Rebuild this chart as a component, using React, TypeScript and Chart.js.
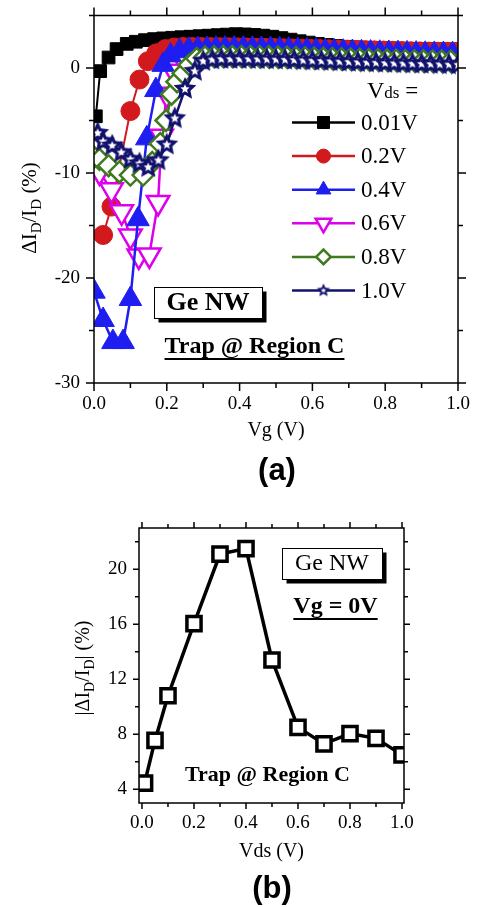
import React, { useEffect, useRef } from 'react';
import { Chart, registerables } from 'chart.js';
import { drawPoint } from 'chart.js/helpers';

Chart.register(...registerables);

const SERIF = '"Liberation Serif", "Times New Roman", Times, serif';
const SANS = '"Liberation Sans", Arial, Helvetica, sans-serif';

// ---------------- Panel (a): ΔI_D/I_D (%) vs Vg (V) ----------------
const VDS_LABELS = ['0.01V', '0.2V', '0.4V', '0.6V', '0.8V', '1.0V'];

const VG_001 = [0.005, 0.017, 0.04, 0.062, 0.09, 0.115, 0.14, 0.165, 0.19, 0.215, 0.24, 0.265, 0.29, 0.315, 0.34, 0.365, 0.39, 0.415, 0.44, 0.465, 0.49, 0.515, 0.54, 0.565, 0.59, 0.615, 0.64, 0.665, 0.69, 0.715, 0.74, 0.765, 0.79, 0.815, 0.84, 0.865, 0.89, 0.915, 0.94, 0.965, 0.99];
const DI_001 = [-4.6, -0.3, 1.0, 1.8, 2.3, 2.5, 2.65, 2.75, 2.82, 2.88, 2.93, 2.98, 3.03, 3.08, 3.13, 3.18, 3.22, 3.2, 3.15, 3.08, 2.98, 2.85, 2.7, 2.55, 2.42, 2.3, 2.2, 2.1, 2.02, 1.97, 1.93, 1.9, 1.88, 1.86, 1.84, 1.82, 1.8, 1.79, 1.78, 1.77, 1.76];

const VG_02 = [0.025, 0.048, 0.1, 0.125, 0.148, 0.171, 0.196, 0.22, 0.245, 0.27, 0.295, 0.32, 0.345, 0.37, 0.395, 0.42, 0.445, 0.47, 0.495, 0.52, 0.545, 0.57, 0.595, 0.62, 0.645, 0.67, 0.695, 0.72, 0.745, 0.77, 0.795, 0.82, 0.845, 0.87, 0.895, 0.92, 0.945, 0.97, 0.995];
const DI_02 = [-15.9, -13.2, -4.1, -1.1, 0.65, 1.4, 1.8, 1.95, 2.0, 2.0, 2.0, 1.99, 1.98, 1.97, 1.96, 1.95, 1.93, 1.92, 1.9, 1.88, 1.86, 1.84, 1.82, 1.8, 1.78, 1.76, 1.74, 1.72, 1.7, 1.68, 1.66, 1.64, 1.62, 1.6, 1.58, 1.56, 1.55, 1.54, 1.53];

const VG_04 = [0.0, 0.025, 0.052, 0.08, 0.1, 0.121, 0.145, 0.17, 0.19, 0.21, 0.235, 0.26, 0.285, 0.31, 0.335, 0.36, 0.385, 0.41, 0.435, 0.46, 0.485, 0.51, 0.535, 0.56, 0.585, 0.61, 0.635, 0.66, 0.685, 0.71, 0.735, 0.76, 0.785, 0.81, 0.835, 0.86, 0.885, 0.91, 0.935, 0.96, 0.985];
const DI_04 = [-21.3, -24.0, -26.1, -26.1, -22.0, -14.4, -6.7, -2.1, 0.3, 1.2, 1.6, 1.75, 1.8, 1.82, 1.84, 1.85, 1.85, 1.85, 1.84, 1.82, 1.8, 1.78, 1.75, 1.72, 1.68, 1.65, 1.62, 1.58, 1.55, 1.52, 1.5, 1.47, 1.45, 1.43, 1.41, 1.39, 1.37, 1.35, 1.34, 1.33, 1.32];

const VG_06 = [0.015, 0.048, 0.076, 0.1, 0.123, 0.152, 0.176, 0.186, 0.2, 0.218, 0.24, 0.265, 0.29, 0.315, 0.34, 0.365, 0.39, 0.415, 0.44, 0.465, 0.49, 0.515, 0.54, 0.565, 0.59, 0.615, 0.64, 0.665, 0.69, 0.715, 0.74, 0.765, 0.79, 0.815, 0.84, 0.865, 0.89, 0.915, 0.94, 0.965, 0.99];
const DI_06 = [-9.9, -11.6, -13.7, -16.0, -17.9, -17.8, -12.8, -6.5, -2.5, -0.3, 1.0, 1.4, 1.5, 1.5, 1.5, 1.5, 1.5, 1.49, 1.48, 1.47, 1.46, 1.45, 1.43, 1.41, 1.39, 1.37, 1.35, 1.33, 1.31, 1.29, 1.27, 1.25, 1.23, 1.21, 1.19, 1.17, 1.15, 1.14, 1.13, 1.12, 1.11];

const VG_08 = [0.0, 0.015, 0.04, 0.07, 0.1, 0.135, 0.16, 0.182, 0.198, 0.213, 0.228, 0.245, 0.262, 0.282, 0.305, 0.33, 0.355, 0.38, 0.405, 0.43, 0.455, 0.48, 0.505, 0.53, 0.555, 0.58, 0.605, 0.63, 0.655, 0.68, 0.705, 0.73, 0.755, 0.78, 0.805, 0.83, 0.855, 0.88, 0.905, 0.93, 0.955, 0.98];
const DI_08 = [-8.5, -8.7, -9.3, -9.9, -10.2, -10.2, -9.0, -7.2, -5.0, -2.5, -1.3, -0.5, 0.3, 0.9, 1.05, 1.08, 1.1, 1.1, 1.1, 1.09, 1.08, 1.06, 1.04, 1.02, 1.0, 0.98, 0.95, 0.92, 0.9, 0.87, 0.85, 0.82, 0.8, 0.78, 0.76, 0.74, 0.72, 0.7, 0.68, 0.67, 0.66, 0.65];

const VG_10 = [0.01, 0.025, 0.05, 0.075, 0.1, 0.125, 0.149, 0.177, 0.2, 0.222, 0.25, 0.277, 0.3, 0.325, 0.35, 0.375, 0.4, 0.425, 0.45, 0.475, 0.5, 0.525, 0.55, 0.575, 0.6, 0.625, 0.65, 0.675, 0.7, 0.725, 0.75, 0.775, 0.8, 0.825, 0.85, 0.875, 0.9, 0.925, 0.95, 0.975, 1.0];
const DI_10 = [-6.2, -7.0, -7.4, -8.05, -8.7, -9.1, -9.45, -8.8, -7.3, -4.8, -2.0, -0.3, 0.65, 0.8, 0.85, 0.85, 0.85, 0.84, 0.83, 0.82, 0.8, 0.78, 0.76, 0.73, 0.7, 0.67, 0.64, 0.61, 0.58, 0.55, 0.52, 0.5, 0.47, 0.45, 0.43, 0.41, 0.39, 0.37, 0.35, 0.33, 0.31];

const A_X_TICKS = [0, 0.2, 0.4, 0.6, 0.8, 1.0];
const A_X_MINOR = [0.1, 0.3, 0.5, 0.7, 0.9];
const A_Y_TICKS = [-30, -20, -10, 0];
const A_Y_MINOR = [-25, -15, -5, 5];

// ---------------- Panel (b): |ΔI_D/I_D| (%) vs Vds (V) ----------------
const VDS_B = [0.01, 0.05, 0.1, 0.2, 0.3, 0.4, 0.5, 0.6, 0.7, 0.8, 0.9, 1.0];
const DELTA_B = [4.45, 7.55, 10.8, 16.05, 21.1, 21.5, 13.4, 8.5, 7.3, 8.05, 7.7, 6.5];

const B_X_TICKS = [0, 0.2, 0.4, 0.6, 0.8, 1.0];
const B_X_MINOR = [0.1, 0.3, 0.5, 0.7, 0.9];
const B_Y_TICKS = [4, 8, 12, 16, 20];
const B_Y_MINOR = [6, 10, 14, 18, 22];

// ---------------- styles ----------------
const NAVY = '#12126e';
const STYLES = [
  { color: '#000000', ps: 'rect', r: 9, rot: 0, fill: '#000000', pbw: 1, lw: 2, order: 5, legR: 8.5 },
  { color: '#d21a1e', ps: 'circle', r: 9.5, rot: 0, fill: '#d21a1e', pbw: 1, lw: 2, order: 4, legR: 7 },
  { color: '#1e1ef0', ps: 'triangle', r: 13, rot: 0, fill: '#1e1ef0', pbw: 1, lw: 2.5, order: 2, legR: 8.5 },
  { color: '#dc00ec', ps: 'triangle', r: 13, rot: 180, fill: '#ffffff', pbw: 2.5, lw: 2.5, order: 3, legR: 9 },
  { color: '#3f7a1c', ps: 'rectRot', r: 10.5, rot: 0, fill: '#ffffff', pbw: 2.5, lw: 2.5, order: 1, legR: 7.3 },
  { color: NAVY, ps: 'star', r: 12, rot: 0, fill: NAVY, pbw: 1, lw: 2.5, order: 0, legR: 7 },
];

function makeStar(R: number): HTMLCanvasElement {
  const size = Math.ceil(2 * R + 2);
  const c = document.createElement('canvas');
  c.width = size;
  c.height = size;
  const ctx = c.getContext('2d')!;
  const cx = size / 2, cy = size / 2;
  const path = (ro: number, ri: number) => {
    ctx.beginPath();
    for (let k = 0; k < 10; k++) {
      const r = k % 2 === 0 ? ro : ri;
      const a = -Math.PI / 2 + (k * Math.PI) / 5;
      ctx.lineTo(cx + r * Math.cos(a), cy + r * Math.sin(a));
    }
    ctx.closePath();
  };
  path(R, R * 0.48);
  ctx.fillStyle = NAVY;
  ctx.fill();
  path(R * 0.4, R * 0.4 * 0.45);
  ctx.fillStyle = '#ffffff';
  ctx.fill();
  return c;
}

type Part = [string, number, number, boolean?];
function rich(ctx: CanvasRenderingContext2D, parts: Part[], x: number, y: number, align: 'left' | 'center') {
  ctx.textBaseline = 'alphabetic';
  ctx.textAlign = 'left';
  ctx.fillStyle = '#000';
  let w = 0;
  for (const p of parts) {
    ctx.font = `${p[3] ? 'bold ' : ''}${p[1]}px ${SERIF}`;
    w += ctx.measureText(p[0]).width;
  }
  let cx = align === 'center' ? x - w / 2 : x;
  for (const p of parts) {
    ctx.font = `${p[3] ? 'bold ' : ''}${p[1]}px ${SERIF}`;
    ctx.fillText(p[0], cx, y + p[2]);
    cx += ctx.measureText(p[0]).width;
  }
}

function txt(ctx: CanvasRenderingContext2D, s: string, x: number, y: number, font: string) {
  ctx.font = font;
  ctx.textAlign = 'center';
  ctx.textBaseline = 'middle';
  ctx.fillStyle = '#000';
  ctx.fillText(s, x, y);
}

function underlined(ctx: CanvasRenderingContext2D, s: string, x: number, y: number, font: string, uy: number) {
  txt(ctx, s, x, y, font);
  const w = ctx.measureText(s).width;
  ctx.beginPath();
  ctx.lineWidth = 2;
  ctx.strokeStyle = '#000';
  ctx.moveTo(x - w / 2, uy);
  ctx.lineTo(x + w / 2, uy);
  ctx.stroke();
}

function shadowBox(ctx: CanvasRenderingContext2D, x: number, y: number, w: number, h: number, off: number) {
  ctx.fillStyle = '#000';
  ctx.fillRect(x + off, y + off, w, h);
  ctx.fillStyle = '#fff';
  ctx.fillRect(x, y, w, h);
  ctx.lineWidth = 1;
  ctx.strokeStyle = '#000';
  ctx.strokeRect(x + 0.5, y + 0.5, w, h);
}

function framePlugin(spec: { xMaj: number[]; xMin: number[]; yMaj: number[]; yMin: number[]; maj: number; min: number }) {
  return {
    id: 'frameTicks',
    afterDatasetsDraw(chart: any) {
      const { ctx, chartArea: a } = chart;
      const sx = chart.scales.x, sy = chart.scales.y;
      ctx.save();
      ctx.strokeStyle = '#000';
      ctx.lineWidth = 1.5;
      ctx.beginPath();
      const xs: [number[], number][] = [[spec.xMaj, spec.maj], [spec.xMin, spec.min]];
      for (const [vals, len] of xs) {
        for (const v of vals) {
          const p = sx.getPixelForValue(v);
          ctx.moveTo(p, a.bottom);
          ctx.lineTo(p, a.bottom + len);
          ctx.moveTo(p, a.top);
          ctx.lineTo(p, a.top - len);
        }
      }
      const ys: [number[], number][] = [[spec.yMaj, spec.maj], [spec.yMin, spec.min]];
      for (const [vals, len] of ys) {
        for (const v of vals) {
          const p = sy.getPixelForValue(v);
          ctx.moveTo(a.left, p);
          ctx.lineTo(a.left - len, p);
          ctx.moveTo(a.right, p);
          ctx.lineTo(a.right + len, p);
        }
      }
      ctx.stroke();
      ctx.strokeRect(a.left, a.top, a.right - a.left, a.bottom - a.top);
      ctx.restore();
    },
  };
}

function axisCommon(ticks: number[], min: number, max: number, fmt: (v: number) => string, padding: number, fit: (s: any) => void) {
  return {
    type: 'linear',
    min,
    max,
    afterBuildTicks: (s: any) => {
      s.ticks = ticks.map((v) => ({ value: v }));
    },
    afterFit: (s: any) => {
      fit(s);
      s.paddingTop = 0;
      s.paddingBottom = 0;
      s.paddingLeft = 0;
      s.paddingRight = 0;
    },
    grid: { display: false, drawTicks: false },
    border: { display: false },
    ticks: {
      autoSkip: false,
      maxRotation: 0,
      minRotation: 0,
      padding,
      color: '#000',
      font: { family: SERIF, size: 19 },
      callback: (v: any) => fmt(Number(v)),
    },
  };
}

function topConfig(starBig: HTMLCanvasElement, starSmall: HTMLCanvasElement): any {
  const XS = [VG_001, VG_02, VG_04, VG_06, VG_08, VG_10];
  const YS = [DI_001, DI_02, DI_04, DI_06, DI_08, DI_10];
  const datasets = XS.map((xs, i) => {
    const st = STYLES[i];
    return {
      label: VDS_LABELS[i],
      data: xs.map((x, j) => ({ x, y: YS[i][j] })),
      borderColor: st.color,
      backgroundColor: st.fill,
      borderWidth: st.lw,
      pointStyle: st.ps === 'star' ? starBig : st.ps,
      pointRadius: st.r,
      pointRotation: st.rot,
      pointBackgroundColor: st.fill,
      pointBorderColor: st.color,
      pointBorderWidth: st.pbw,
      tension: 0,
      fill: false,
      clip: 0,
      order: st.order,
    };
  });

  const annot = {
    id: 'annotA',
    afterDraw(chart: any) {
      const ctx: CanvasRenderingContext2D = chart.ctx;
      ctx.save();
      // legend
      rich(ctx, [['V', 24, 0], ['ds', 17, 0], [' =', 23, 0]], 367, 98, 'left');
      VDS_LABELS.forEach((lab, i) => {
        const st = STYLES[i];
        const y = 122.5 + i * 33.6;
        ctx.beginPath();
        ctx.strokeStyle = st.color;
        ctx.lineWidth = 2.5;
        ctx.moveTo(292, y);
        ctx.lineTo(355, y);
        ctx.stroke();
        ctx.fillStyle = st.fill;
        ctx.strokeStyle = st.color;
        ctx.lineWidth = st.pbw;
        drawPoint(ctx, { pointStyle: st.ps === 'star' ? starSmall : st.ps, rotation: st.rot, radius: st.legR, borderWidth: st.pbw } as any, 323.5, y);
        ctx.font = `23px ${SERIF}`;
        ctx.textAlign = 'left';
        ctx.textBaseline = 'middle';
        ctx.fillStyle = '#000';
        ctx.fillText(lab, 361, y + 1);
      });
      // Ge NW box
      shadowBox(ctx, 154, 287, 108, 31, 4.5);
      txt(ctx, 'Ge NW', 208, 303, `bold 26px ${SERIF}`);
      underlined(ctx, 'Trap @ Region C', 254.5, 347, `bold 24px ${SERIF}`, 359);
      // axis titles
      txt(ctx, 'Vg (V)', 276, 431, `20px ${SERIF}`);
      txt(ctx, '(a)', 277, 471, `bold 31px ${SANS}`);
      ctx.save();
      ctx.translate(30, 208);
      ctx.rotate(-Math.PI / 2);
      rich(ctx, [['\u0394I', 21, 0], ['D', 15, 5], ['/I', 21, 0], ['D', 15, 5], [' (%)', 21, 0]], 0, 6, 'center');
      ctx.restore();
      ctx.restore();
    },
  };

  return {
    type: 'line',
    data: { datasets },
    options: {
      responsive: false,
      animation: false,
      devicePixelRatio: 1,
      events: [],
      layout: { padding: { top: 6, right: 19, left: 0, bottom: 0 } },
      plugins: { legend: { display: false }, tooltip: { enabled: false }, title: { display: false } },
      scales: {
        x: axisCommon(A_X_TICKS, 0, 1, (v) => v.toFixed(1), 10, (s) => { s.height = 117; }),
        y: axisCommon(A_Y_TICKS, -30, 5, (v) => String(v), 14, (s) => { s.width = 94; }),
      },
    },
    plugins: [framePlugin({ xMaj: A_X_TICKS, xMin: A_X_MINOR, yMaj: A_Y_TICKS, yMin: A_Y_MINOR, maj: 8, min: 5 }), annot],
  };
}

function bottomConfig(): any {
  const annot = {
    id: 'annotB',
    afterDraw(chart: any) {
      const ctx: CanvasRenderingContext2D = chart.ctx;
      ctx.save();
      shadowBox(ctx, 282, 48, 100, 31, 4.5);
      txt(ctx, 'Ge NW', 332, 64, `24px ${SERIF}`);
      underlined(ctx, 'Vg = 0V', 335.5, 107, `bold 24px ${SERIF}`, 119);
      txt(ctx, 'Trap @ Region C', 267.5, 275, `bold 22px ${SERIF}`);
      txt(ctx, 'Vds (V)', 271.5, 352, `20px ${SERIF}`);
      txt(ctx, '(b)', 272, 389, `bold 31px ${SANS}`);
      ctx.save();
      ctx.translate(83, 168);
      ctx.rotate(-Math.PI / 2);
      rich(ctx, [['|\u0394I', 20, 0], ['D', 14, 5], ['/I', 20, 0], ['D', 14, 5], ['| (%)', 20, 0]], 0, 6, 'center');
      ctx.restore();
      ctx.restore();
    },
  };
  return {
    type: 'line',
    data: {
      datasets: [
        {
          label: '|ΔI_D/I_D|',
          data: VDS_B.map((x, i) => ({ x, y: DELTA_B[i] })),
          borderColor: '#000',
          borderWidth: 3.5,
          pointStyle: 'rect',
          pointRadius: 10,
          pointBackgroundColor: '#fff',
          pointBorderColor: '#000',
          pointBorderWidth: 3.5,
          tension: 0,
          fill: false,
          clip: 0,
        },
      ],
    },
    options: {
      responsive: false,
      animation: false,
      devicePixelRatio: 1,
      events: [],
      layout: { padding: { top: 28, right: 73, left: 0, bottom: 0 } },
      plugins: { legend: { display: false }, tooltip: { enabled: false }, title: { display: false } },
      scales: {
        x: axisCommon(B_X_TICKS, -0.0115, 1.0077, (v) => v.toFixed(1), 9, (s) => { s.height = 104; }),
        y: axisCommon(B_Y_TICKS, 3, 23, (v) => String(v), 12, (s) => { s.width = 139; }),
      },
    },
    plugins: [framePlugin({ xMaj: B_X_TICKS, xMin: B_X_MINOR, yMaj: B_Y_TICKS, yMin: B_Y_MINOR, maj: 6, min: 4 }), annot],
  };
}

export default function App() {
  const topRef = useRef<HTMLCanvasElement>(null);
  const botRef = useRef<HTMLCanvasElement>(null);
  useEffect(() => {
    const starBig = makeStar(12);
    const starSmall = makeStar(7);
    const c1 = new Chart(topRef.current!, topConfig(starBig, starSmall));
    const c2 = new Chart(botRef.current!, bottomConfig());
    return () => {
      c1.destroy();
      c2.destroy();
    };
  }, []);
  return (
    <div style={{ position: 'absolute', left: 0, top: 0, width: 477, height: 907, background: '#fff', overflow: 'hidden' }}>
      <canvas ref={topRef} width={477} height={500} style={{ position: 'absolute', left: 0, top: 0, width: 477, height: 500 }} />
      <canvas ref={botRef} width={477} height={407} style={{ position: 'absolute', left: 0, top: 500, width: 477, height: 407 }} />
    </div>
  );
}
